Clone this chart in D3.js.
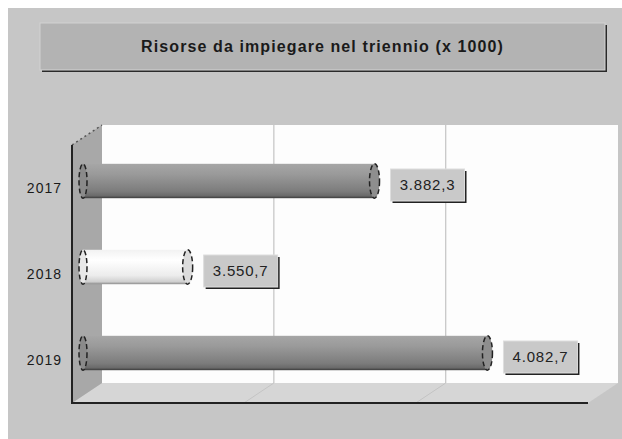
<!DOCTYPE html>
<html><head><meta charset="utf-8">
<script src="https://cdn.jsdelivr.net/npm/d3@7"></script>
<style>html,body{margin:0;padding:0;background:#fff;}svg{display:block;}</style>
</head><body>
<svg id="c" width="622" height="439"></svg>
<script>
const title = "Risorse da impiegare nel triennio (x 1000)";
const categories = ["2017", "2018", "2019"];
const values = [3882.3, 3550.7, 4082.7];
const highlight = [false, true, false];
const xDomain = [3365, 4270];
const gridValues = [3670, 3975];

const svg = d3.select("#c");
const font = "Arial, 'Liberation Sans', sans-serif";

// background
svg.append("rect").attr("x",0).attr("y",0).attr("width",622).attr("height",439).attr("fill","#ffffff");
svg.append("rect").attr("x",8).attr("y",8).attr("width",614).attr("height",431).attr("fill","#c6c6c6");

// title box
const tb = {x:40, y:23, w:565, h:47};
svg.append("rect").attr("x",tb.x+2).attr("y",tb.y+2).attr("width",tb.w).attr("height",tb.h).attr("fill","#2a2a2a");
svg.append("rect").attr("x",tb.x).attr("y",tb.y).attr("width",tb.w).attr("height",tb.h).attr("fill","#b3b3b3")
  .attr("stroke","#d2d2d2").attr("stroke-width",1);
svg.append("text").attr("x",tb.x+tb.w/2).attr("y",tb.y+tb.h/2+5).attr("text-anchor","middle")
  .attr("font-family",font).attr("font-size",16).attr("font-weight","bold").attr("letter-spacing",1.1)
  .attr("fill","#1a1a1a").text(title);

// 3D geometry
const frontX = 72, frontTop = 145, frontBottom = 403;
const dx = 30, dy = -20;
const backRight = 618;
const barDx = 11, barDy = -7;

const x = d3.scaleLinear().domain(xDomain).range([frontX+dx, 612]); // back plane
const y = d3.scaleBand().domain(categories).range([frontTop, frontBottom]).paddingInner(0.6).paddingOuter(0.3);

// back wall
svg.append("rect").attr("x",frontX+dx).attr("y",frontTop+dy).attr("width",backRight-(frontX+dx)).attr("height",frontBottom-frontTop).attr("fill","#fdfdfd");
svg.selectAll(".gb").data(gridValues).join("line")
  .attr("x1",d=>x(d)).attr("x2",d=>x(d)).attr("y1",frontTop+dy).attr("y2",frontBottom+dy)
  .attr("stroke","#b8b8b8").attr("stroke-width",1);
// floor
svg.append("polygon").attr("points",[
  [frontX+dx, frontBottom+dy],[backRight, frontBottom+dy],[backRight-dx, frontBottom],[frontX, frontBottom]
].map(p=>p.join(",")).join(" ")).attr("fill","#d6d6d6");
svg.selectAll(".gf").data(gridValues).join("line")
  .attr("x1",d=>x(d)).attr("x2",d=>x(d)-dx).attr("y1",frontBottom+dy).attr("y2",frontBottom)
  .attr("stroke","#c4c4c4").attr("stroke-width",1);
// left wall
svg.append("polygon").attr("points",[
  [frontX, frontTop],[frontX+dx, frontTop+dy],[frontX+dx, frontBottom+dy],[frontX, frontBottom]
].map(p=>p.join(",")).join(" ")).attr("fill","#a8a8a8");
svg.append("line").attr("x1",frontX).attr("y1",frontTop).attr("x2",frontX+dx).attr("y2",frontTop+dy)
  .attr("stroke","#555").attr("stroke-width",1.5).attr("stroke-dasharray","2,3");

// axes lines
svg.append("line").attr("x1",frontX).attr("x2",frontX).attr("y1",frontTop).attr("y2",frontBottom+1)
  .attr("stroke","#222").attr("stroke-width",2);
svg.append("line").attr("x1",frontX).attr("x2",backRight-dx).attr("y1",frontBottom).attr("y2",frontBottom)
  .attr("stroke","#222").attr("stroke-width",2);

// category labels
svg.selectAll(".cl").data(categories).join("text")
  .attr("x",frontX-10).attr("y",d=>y(d)+y.bandwidth()/2+5).attr("text-anchor","end")
  .attr("font-family",font).attr("font-size",14).attr("letter-spacing",1).attr("fill","#1a1a1a").text(d=>d);

// gradients
const defs = svg.append("defs");
const gGray = defs.append("linearGradient").attr("id","gGray").attr("x1",0).attr("y1",0).attr("x2",0).attr("y2",1);
[[0,"#a6a6a6"],[0.3,"#9a9a9a"],[0.8,"#7c7c7c"],[0.93,"#6a6a6a"],[1,"#3a3a3a"]].forEach(s=>gGray.append("stop").attr("offset",s[0]).attr("stop-color",s[1]));
const gWhite = defs.append("linearGradient").attr("id","gWhite").attr("x1",0).attr("y1",0).attr("x2",0).attr("y2",1);
[[0,"#f2f2f2"],[0.3,"#ffffff"],[0.75,"#ececec"],[0.93,"#cfcfcf"],[1,"#8a8a8a"]].forEach(s=>gWhite.append("stop").attr("offset",s[0]).attr("stop-color",s[1]));

const fmt = d3.formatLocale({decimal:",", thousands:".", grouping:[3], currency:["","€"]}).format(",.1f");

const bars = categories.map((c,i)=>({c, v:values[i], hl:highlight[i]}));
const bh = y.bandwidth();
const gBars = svg.selectAll(".bar").data(bars).join("g");
const bx0 = x(xDomain[0]) - dx + barDx;
const bxE = d => x(d.v) - dx + barDx;
const byC = d => y(d.c) + bh/2 + barDy;

gBars.append("rect").attr("x",bx0).attr("y",d=>byC(d)-bh/2).attr("width",d=>bxE(d)-bx0).attr("height",bh)
  .attr("fill",d=>d.hl?"url(#gWhite)":"url(#gGray)");
gBars.append("ellipse").attr("cx",bx0).attr("cy",byC).attr("rx",4).attr("ry",bh/2)
  .attr("fill",d=>d.hl?"#e8e8e8":"#8a8a8a").attr("stroke","#222").attr("stroke-width",1.5).attr("stroke-dasharray","5,3");
gBars.append("ellipse").attr("cx",bxE).attr("cy",byC).attr("rx",5).attr("ry",bh/2)
  .attr("fill",d=>d.hl?"#dcdcdc":"#8e8e8e").attr("stroke","#222").attr("stroke-width",1.5).attr("stroke-dasharray","5,3");

// value labels
const lw = 74, lh = 32;
const lg = gBars.append("g").attr("transform",d=>`translate(${bxE(d)+16},${byC(d)+4-lh/2})`);
lg.append("rect").attr("x",2).attr("y",2).attr("width",lw).attr("height",lh).attr("fill","#222");
lg.append("rect").attr("x",0).attr("y",0).attr("width",lw).attr("height",lh).attr("fill","#c9c9c9").attr("stroke","#dedede").attr("stroke-width",1);
lg.append("text").attr("x",lw/2).attr("y",lh/2+5).attr("text-anchor","middle")
  .attr("font-family",font).attr("font-size",15).attr("letter-spacing",0.8).attr("fill","#222").text(d=>fmt(d.v));
</script>
</body></html>
